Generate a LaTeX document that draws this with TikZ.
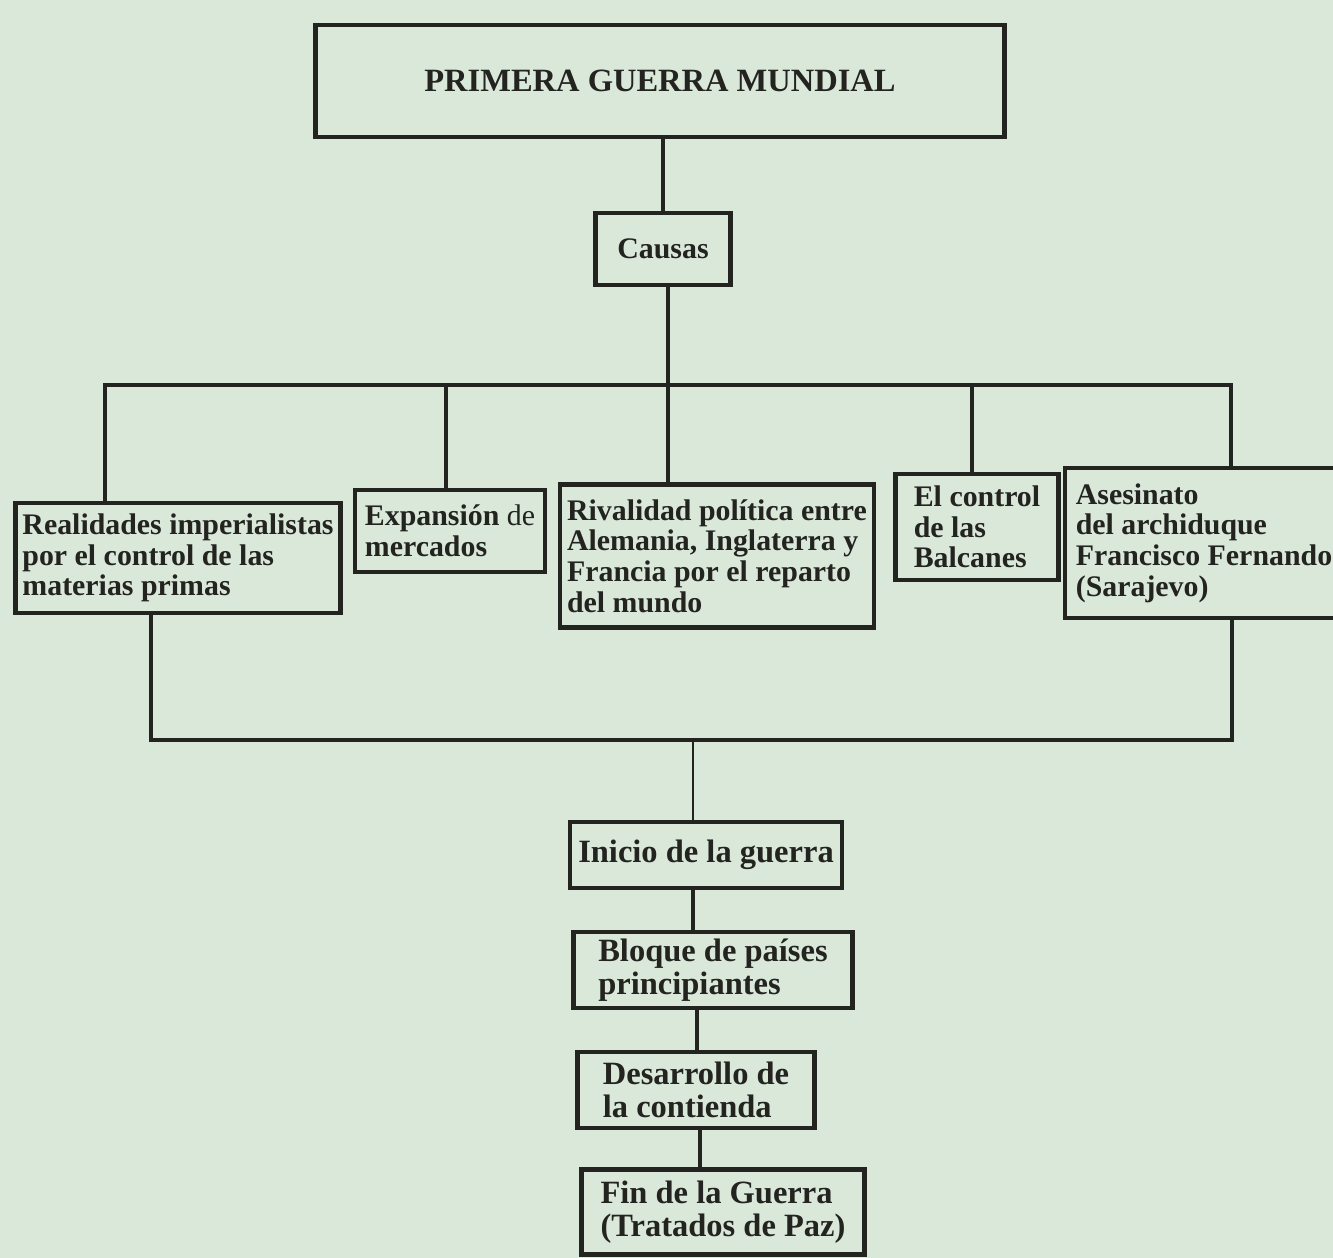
\documentclass[tikz,border=0pt]{standalone}
\usepackage{fontspec}
\setmainfont{Liberation Serif}
\usepackage{xcolor}
\definecolor{paper}{RGB}{218,232,218}
\definecolor{ink}{RGB}{35,35,32}

\begin{document}
\begin{tikzpicture}[x=0.02cm, y=-0.02cm,
    every node/.style = {shape=rectangle, draw=ink, line width=2.8pt,
      align=left, inner sep=3pt, text=ink,
      font=\fontsize{17}{17.5}\selectfont\bfseries},
    paso/.style = {font=\fontsize{18.5}{19}\selectfont\bfseries},
    link/.style = {draw=ink, line width=2.2pt}]
  \useasboundingbox[fill=paper] (0,0) rectangle (1333,1258);

  % title and causes
  \node[minimum width=13.8cm, minimum height=2.24cm,
    font=\fontsize{18.5}{20}\selectfont\bfseries] (titulo) at (660,81) {PRIMERA GUERRA MUNDIAL};
  \node[minimum width=2.7cm, minimum height=1.44cm] (causas) at (663,249) {Causas};

  % row of causes
  \node[minimum width=6.5cm, minimum height=2.2cm] (realidades) at (178,558)
    {Realidades imperialistas\\por el control de las\\materias primas};
  \node[minimum width=3.8cm, minimum height=1.64cm] (expansion) at (450,531)
    {Expansión {\mdseries de}\\mercados};
  \node[minimum width=6.28cm, minimum height=2.86cm] (rivalidad) at (717,556)
    {Rivalidad política entre\\Alemania, Inglaterra y\\Francia por el reparto\\del mundo};
  \node[minimum width=3.26cm, minimum height=2.12cm] (balcanes) at (977,527)
    {El control\\de las\\Balcanes};
  \node[minimum width=5.56cm, minimum height=3.0cm] (asesinato) at (1204,543)
    {Asesinato\\del archiduque\\Francisco Fernando\\(Sarajevo)};

  % sequence of the war
  \node[paso, minimum width=5.44cm, minimum height=1.32cm] (inicio) at (706,855) {Inicio de la guerra};
  \node[paso, minimum width=5.58cm, minimum height=1.52cm] (bloque) at (713,970)
    {Bloque de países\\principiantes};
  \node[paso, minimum width=4.74cm, minimum height=1.52cm] (desarrollo) at (696,1090)
    {Desarrollo de\\la contienda};
  \node[paso, minimum width=5.66cm, minimum height=1.7cm] (fin) at (723,1212)
    {Fin de la Guerra\\(Tratados de Paz)};

  \coordinate (barL) at (105,385);
  \coordinate (barR) at (1231,385);
  \coordinate (lowL) at (151,740);
  \coordinate (lowR) at (1232,740);
  \coordinate (eje) at (693,740);

  \draw[link] (titulo.south -| causas) -- (causas.north);
  \draw[link] (causas.south -| 668,0) -- (rivalidad.north -| 668,0);
  \draw[link] (realidades.north -| barL) -- (barL) -- (barR) -- (asesinato.north -| barR);
  \draw[link] (expansion.north -| 446,0) -- (barL -| 446,0);
  \draw[link] (balcanes.north -| 972,0) -- (barL -| 972,0);

  \draw[link] (realidades.south -| lowL) -- (lowL) -- (lowR) -- (asesinato.south -| lowR);
  \draw[link, line width=1.3pt] (eje) -- (inicio.north -| eje);
  \draw[link, line width=1.8pt] (inicio.south -| eje) -- (bloque.north -| eje);
  \draw[link, line width=1.8pt] (bloque.south -| 697,0) -- (desarrollo.north -| 697,0);
  \draw[link, line width=1.8pt] (desarrollo.south -| 700,0) -- (fin.north -| 700,0);
\end{tikzpicture}
\end{document}
